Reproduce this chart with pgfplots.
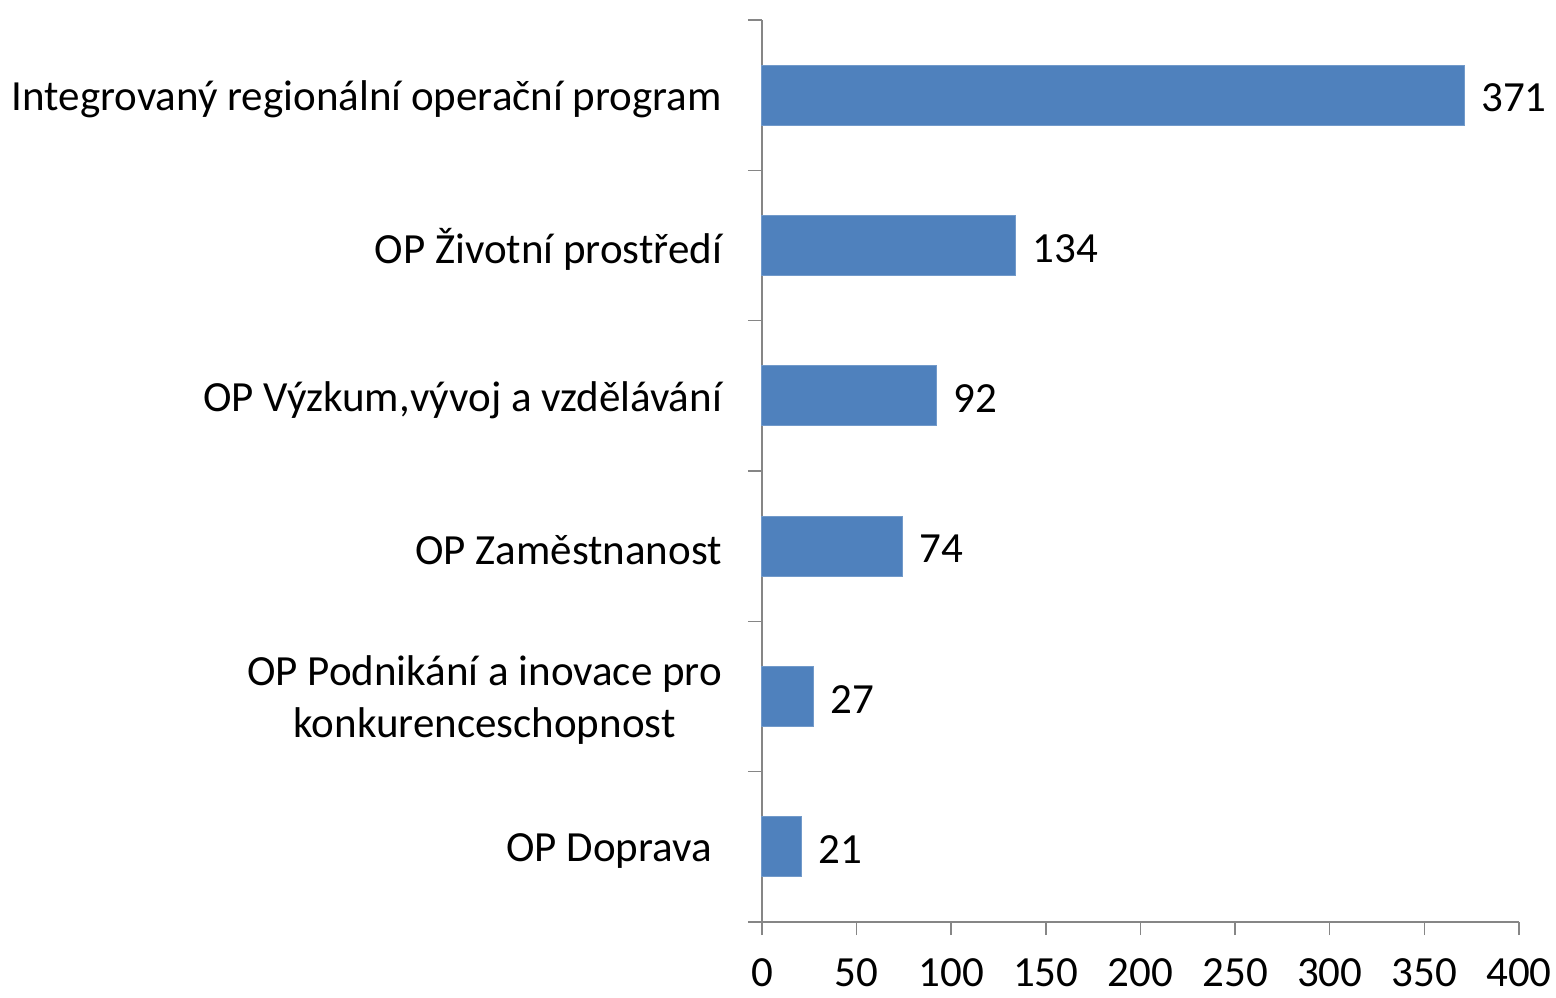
\documentclass[border=0pt]{standalone}
\usepackage{pgfplots}
\pgfplotsset{compat=1.18}
\usepackage{fontspec}
\setmainfont{Carlito}
\definecolor{barblue}{HTML}{4F81BD}
\definecolor{axgray}{HTML}{868686}
\begin{document}
\begin{tikzpicture}
\begin{axis}[
  at={(0,0)}, anchor=south west,
  scale only axis,
  width=378.5pt, height=451pt,
  xbar, bar width=30pt,
  xmin=0, xmax=400,
  ymin=-0.5, ymax=5.5,
  xtick={0,50,...,400},
  ytick={0,1,2,3,4,5},
  yticklabels={OP Doprava\hspace*{5pt},{OP Podnikání a inovace pro\\konkurenceschopnost},OP Zaměstnanost,{OP Výzkum,vývoj a vzdělávání},OP Životní prostředí,Integrovaný regionální operační program},
  minor ytick={-0.5,0.5,...,5.5},
  axis x line*=bottom, axis y line*=left,
  axis line style={axgray, line width=0.75pt},
  every tick/.style={axgray, line width=0.75pt},
  tick align=outside,
  xtick pos=bottom, ytick pos=left,
  major tick length=6.5pt,
  major y tick style={draw=none},
  minor tick length=7pt,
  minor y tick style={axgray, line width=0.75pt},
  /pgf/number format/assume math mode=true,
  tick label style={font=\fontsize{21.5}{26}\selectfont, black},
  xticklabel style={inner sep=0pt, text depth=0pt, anchor=north, yshift=-11.5pt},
  yticklabel style={align=center, anchor=east, xshift=-10pt, yshift=-2pt},
  nodes near coords,
  every node near coord/.append style={font=\fontsize{21.5}{26}\selectfont, black, xshift=5pt, yshift=-1.5pt},
  clip=false,
]
\addplot[fill=barblue, draw=barblue!80!white, line width=0.5pt] coordinates {
(21,0) (27,1) (74,2) (92,3) (134,4) (371,5)
};
\end{axis}
\pgfresetboundingbox
\path (-381pt,-37.5pt) rectangle (397pt,461pt);
\end{tikzpicture}
\end{document}
